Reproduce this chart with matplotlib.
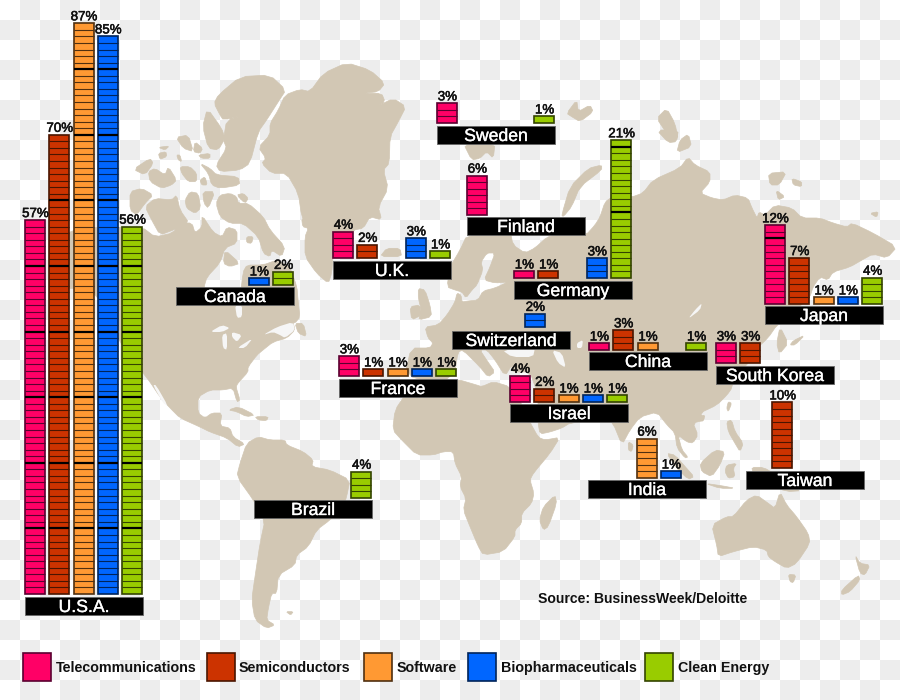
import numpy as np
import matplotlib.pyplot as plt
from matplotlib.colors import ListedColormap
from matplotlib.patches import Polygon, Rectangle
import matplotlib.patheffects as pe

plt.rcParams['font.family'] = ['Liberation Sans', 'DejaVu Sans']

# values (percent), one list per sector, same order as countries
countries = ["U.S.A.", "Canada", "Brazil", "U.K.", "France", "Sweden", "Finland", "Germany",
             "Switzerland", "China", "South Korea", "Japan", "Israel", "India", "Taiwan"]
telecom = [57, 0, 0, 4, 3, 3, 6, 1, 0, 1, 3, 12, 4, 0, 0]
semis = [70, 0, 0, 2, 1, 0, 0, 1, 0, 3, 3, 7, 2, 0, 10]
software = [87, 0, 0, 0, 1, 0, 0, 0, 0, 1, 0, 1, 1, 6, 0]
biopharma = [85, 1, 0, 3, 1, 0, 0, 3, 2, 0, 0, 1, 1, 1, 0]
clean = [56, 2, 4, 1, 1, 1, 0, 21, 0, 1, 0, 4, 1, 0, 0]
sectors = ["Telecommunications", "Semiconductors", "Software", "Biopharmaceuticals", "Clean Energy"]
source = "Source: BusinessWeek/Deloitte"

# layout
colors = ["#FF0066", "#CC3300", "#FF9933", "#0066FF", "#99CC00"]
dividers = ["#5a0030", "#4a1500", "#503010", "#00245a", "#344400"]
box_left = [25, 176, 254, 333, 339, 437, 467, 514, 452, 589, 716, 765, 510, 588, 746]
box_top = [597, 287, 500, 261, 379, 126, 217, 281, 331, 352, 366, 306, 404, 480, 471]
base = [594, 285, 498, 258, 376, 123, 215, 278, 327, 350, 363, 304, 402, 478, 468]
bar_shift = [0] * 14 + [2]
legend_x = [23, 207, 364, 467.5, 645]
legend_text_x = [56, 239, 397, 500.5, 678]
step = 24.3
unit = 6.56
bar_w = 20
box_w = 118
box_h = 18
land_color = "#D2C7B4"


def traced(ox, oy, pts):
    return [(ox + x / 3, oy + y / 3) for x, y in pts]


def soften(pts):
    # one round of corner cutting so the coasts are not so angular
    p = np.array(pts, dtype=float)
    q = np.roll(p, -1, axis=0)
    out = np.empty((2 * len(p), 2))
    out[0::2] = 0.8 * p + 0.2 * q
    out[1::2] = 0.2 * p + 0.8 * q
    return out


north_america = [(66, 228), (142, 227), (155, 237), (173, 233), (180, 223), (192, 223), (195, 233), (202, 227),
                 (202, 215), (213, 232), (222, 237), (227, 227), (237, 230), (237, 243), (225, 248), (220, 263),
                 (207, 277), (204, 287), (204, 300), (240, 300), (243, 272), (247, 265), (263, 265), (277, 260),
                 (290, 267), (297, 287), (298, 300), (300, 317), (295, 323), (293, 322), (295, 330), (287, 338),
                 (273, 342), (263, 350), (257, 355), (248, 367), (248, 372), (238, 383), (236, 387), (240, 400),
                 (237, 402), (233, 388), (223, 390), (210, 390), (198, 397), (198, 413), (205, 418), (212, 413),
                 (222, 413), (220, 426), (230, 428), (233, 437), (245, 444), (238, 447), (227, 438), (210, 432),
                 (200, 427), (180, 418), (170, 408), (160, 397), (150, 382), (143, 373), (118, 340), (95, 290),
                 (70, 288), (48, 290), (55, 260)]
eurasia = [(467, 235), (460, 250), (450, 267), (447, 287), (455, 290), (462, 292), (466, 298), (472, 290),
           (477, 285), (483, 270), (481, 262), (487, 253), (495, 253), (490, 267), (484, 280), (495, 283),
           (508, 282), (495, 288), (483, 291), (478, 300), (468, 301), (462, 302), (461, 295), (457, 293),
           (455, 302), (447, 315), (438, 325), (425, 327), (428, 338), (433, 343), (430, 348), (411, 348),
           (405, 375), (440, 385), (455, 372), (458, 352), (463, 350), (480, 367), (488, 377), (495, 372),
           (488, 362), (480, 350), (487, 350), (495, 360), (505, 376), (512, 365), (512, 372), (530, 372),
           (538, 395), (538, 423), (540, 434), (550, 432), (562, 428), (570, 423), (605, 418), (613, 423),
           (622, 445), (630, 430), (640, 417), (657, 412), (667, 425), (675, 433), (677, 448), (685, 458),
           (688, 457), (682, 450), (678, 435), (687, 442), (693, 443), (698, 435), (693, 423), (705, 420),
           (700, 413), (717, 405), (727, 395), (732, 388), (735, 370), (745, 368), (755, 350), (768, 338),
           (777, 325), (782, 324), (800, 306), (810, 297), (813, 287), (820, 277), (828, 280), (833, 272),
           (850, 267), (862, 260), (873, 254), (887, 258), (897, 247), (873, 233), (852, 223), (847, 227),
           (833, 223), (820, 218), (802, 218), (792, 208), (775, 205), (765, 215), (759, 212), (757, 218),
           (752, 208), (748, 198), (735, 195), (723, 200), (712, 198), (700, 193), (710, 182), (710, 172),
           (695, 165), (688, 157), (680, 168), (653, 180), (643, 193), (632, 197), (612, 197), (605, 202),
           (600, 217), (595, 225), (586, 235), (557, 235), (547, 237), (535, 248), (525, 253), (513, 245),
           (510, 230)]
south_america = traced(130, 300, [(350, 430), (385, 410), (420, 420), (465, 420), (470, 435), (520, 455), (550, 480),
                                  (545, 500), (600, 510), (660, 540), (650, 590), (640, 620), (600, 660), (560, 690),
                                  (535, 740), (500, 765), (495, 795), (445, 825), (440, 880), (425, 880), (415, 925),
                                  (410, 960), (435, 975), (410, 985), (375, 960), (365, 900), (375, 830), (390, 730),
                                  (405, 660), (370, 600), (320, 530), (330, 490)])
africa = traced(380, 330, [(38, 300), (45, 240), (75, 195), (120, 150), (232, 148), (290, 165), (305, 170), (340, 155),
                           (390, 170), (430, 230), (450, 277), (475, 322), (495, 330), (540, 322), (510, 370),
                           (460, 430), (450, 450), (462, 490), (455, 520), (425, 550), (425, 580), (405, 600),
                           (405, 620), (370, 665), (310, 675), (295, 650), (270, 590), (250, 540), (258, 505),
                           (240, 470), (245, 440), (225, 400), (220, 365), (190, 365), (160, 375), (110, 375),
                           (65, 330)])
australia = traced(620, 360, [(275, 495), (320, 470), (340, 470), (380, 420), (410, 405), (445, 430), (465, 445),
                              (480, 395), (500, 435), (530, 470), (565, 520), (570, 550), (530, 610), (500, 625),
                              (465, 605), (445, 590), (440, 570), (400, 560), (340, 575), (295, 590), (290, 555)])
greenland = traced(130, 60, [(385, 262), (420, 225), (420, 190), (445, 150), (465, 105), (510, 88), (540, 95), (580, 40),
                             (650, 8), (720, 30), (765, 70), (745, 95), (700, 100), (755, 100), (765, 125), (740, 140),
                             (790, 115), (828, 140), (805, 185), (780, 230), (778, 310), (760, 330), (775, 385),
                             (745, 440), (755, 480), (720, 470), (700, 505), (670, 510), (610, 580), (605, 640),
                             (595, 670), (560, 640), (525, 590), (525, 530), (535, 505), (515, 470), (505, 400),
                             (470, 340), (425, 340), (395, 310), (408, 295)])
arctic_islands = [traced(130, 60, p) for p in [
    [(252, 130), (265, 105), (330, 50), (420, 45), (468, 90), (445, 125), (410, 180), (385, 215), (360, 310),
     (330, 330), (270, 335), (258, 315), (290, 265), (280, 240), (290, 180), (345, 165), (280, 180), (270, 165)],
    [(232, 145), (275, 205), (285, 235), (265, 270), (235, 265), (218, 200)],
    [(138, 232), (175, 225), (190, 275), (160, 265)],
    [(195, 245), (218, 265), (210, 280), (190, 275)],
    [(205, 285), (240, 280), (240, 295), (215, 295)],
    [(85, 262), (118, 258), (105, 270)],
    [(85, 280), (108, 275), (110, 290), (90, 298)],
    [(140, 285), (150, 285), (155, 305), (145, 300)],
    [(10, 328), (60, 295), (70, 310), (45, 345)],
    [(55, 335), (75, 325), (105, 345), (115, 320), (140, 360), (125, 375), (95, 385), (60, 365)],
    [(150, 320), (180, 320), (200, 340), (200, 365), (175, 365), (155, 340)],
    [(210, 310), (240, 325), (260, 345), (325, 350), (330, 375), (270, 385), (245, 375), (235, 340)],
    [(210, 360), (225, 350), (232, 375), (215, 375)],
    [(0, 395), (35, 385), (70, 405), (45, 430), (20, 465), (0, 450)],
    [(45, 440), (75, 415), (125, 420), (140, 405), (150, 450), (178, 490), (130, 510), (90, 525), (65, 480)],
    [(165, 420), (180, 395), (205, 400), (212, 445), (195, 460), (170, 445)],
    [(218, 395), (255, 395), (235, 445), (222, 430)],
    [(258, 430), (270, 405), (300, 400), (320, 410), (325, 430), (355, 430), (400, 470), (420, 510), (465, 560),
     (455, 590), (425, 570), (420, 590), (400, 580), (385, 530), (340, 490), (300, 490), (270, 470)],
    [(320, 405), (340, 400), (355, 415), (345, 430)],
    [(285, 570), (330, 610), (300, 620), (280, 610)],
    [(350, 530), (370, 530), (365, 550), (350, 548)],
    [(750, 590), (770, 565), (810, 565), (815, 590)],
    [(515, 475), (540, 480), (535, 505), (518, 500)],
]]
other_islands = [
    traced(380, 90, [(250, 160), (345, 160), (340, 205), (320, 185), (300, 205), (275, 210)]),
    traced(380, 90, [(545, 375), (570, 290), (625, 235), (665, 225), (665, 240), (600, 290), (575, 350), (550, 380)]),
    traced(380, 90, [(560, 70), (590, 30), (595, 65), (630, 45), (640, 65), (600, 95), (575, 80)]),
    traced(380, 90, [(830, 85), (860, 55), (885, 100), (895, 150), (860, 130)]),
    traced(620, 130, [(110, 0), (175, 0), (170, 35), (145, 38)]),
    traced(620, 130, [(180, 30), (205, 12), (215, 50), (170, 68)]),
    traced(620, 130, [(445, 130), (500, 125), (478, 165), (450, 165)]),
    traced(620, 130, [(515, 145), (545, 155), (545, 170), (520, 165)]),
    traced(620, 130, [(468, 180), (495, 200), (475, 210)]),
    traced(620, 130, [(750, 250), (775, 245), (770, 262)]),
    traced(620, 130, [(480, 590), (505, 640), (478, 672), (470, 640)]),
    traced(620, 130, [(555, 615), (520, 632), (510, 645), (525, 645)]),
    traced(405, 285, [(40, 10), (60, 15), (75, 60), (80, 95), (40, 105), (50, 80), (40, 40)]),
    traced(405, 285, [(15, 65), (45, 60), (50, 90), (20, 105)]),
    traced(130, 300, [(495, 70), (520, 70), (530, 110), (505, 100)]),
    traced(130, 300, [(295, 330), (325, 320), (375, 345), (350, 350), (320, 335)]),
    traced(130, 300, [(375, 350), (415, 350), (410, 362), (385, 360)]),
    traced(130, 300, [(468, 935), (490, 935), (482, 945)]),
    traced(380, 330, [(525, 495), (530, 520), (505, 590), (490, 600), (478, 570), (490, 530)]),
    traced(380, 330, [(745, 335), (760, 345), (755, 365), (745, 360)]),
    traced(620, 360, [(140, 280), (165, 285), (200, 325), (222, 350), (205, 358), (170, 325)]),
    traced(620, 360, [(240, 310), (285, 270), (315, 275), (300, 315), (275, 350), (245, 335)]),
    traced(620, 360, [(255, 370), (310, 378), (345, 385), (300, 385)]),
    traced(620, 360, [(320, 315), (350, 310), (340, 325), (345, 350), (325, 355), (315, 335)]),
    traced(620, 360, [(320, 185), (335, 180), (345, 215), (370, 250), (360, 275), (345, 250), (325, 215)]),
    traced(620, 360, [(395, 322), (430, 322), (470, 345), (545, 392), (500, 395), (440, 370), (400, 340)]),
    traced(620, 360, [(325, 125), (335, 130), (325, 155), (320, 145)]),
    traced(620, 360, [(237, 170), (255, 165), (250, 183), (240, 183)]),
    traced(620, 360, [(505, 643), (528, 645), (520, 668), (510, 665)]),
    traced(620, 360, [(705, 585), (720, 610), (750, 615), (735, 645), (720, 640)]),
    traced(620, 360, [(715, 645), (720, 660), (690, 695), (665, 705), (665, 690)]),
]
# water inside the land
water = [
    [(210, 332), (222, 325), (230, 328), (222, 332)],
    [(222, 335), (227, 333), (227, 350), (223, 348)],
    [(232, 332), (242, 335), (237, 342), (232, 337)],
    [(237, 348), (253, 338), (245, 348)],
    [(235, 305), (242, 305), (242, 317), (237, 318)],
    [(263, 335), (277, 327), (293, 322), (295, 330), (285, 338), (280, 335), (273, 332)],
    [(153, 385), (156, 385), (168, 406), (163, 403)],
    [(502, 350), (535, 348), (533, 357), (512, 357)],
    [(552, 350), (562, 353), (566, 368), (558, 363)],
    [(702, 303), (700, 310), (688, 319), (695, 310)],
    [(577, 343), (583, 340), (582, 348), (577, 348)],
]

fig = plt.figure(figsize=(9, 7), dpi=100)
ax = fig.add_axes([0, 0, 1, 1])

# transparent-style checker background
checker = np.indices((35, 45)).sum(axis=0) % 2
ax.imshow(checker, cmap=ListedColormap(["#FFFFFF", "#EDEDED"]), extent=(0, 900, 700, 0),
          aspect="auto", interpolation="nearest", zorder=0)

for shape in [north_america, eurasia, south_america, africa, australia, greenland] + arctic_islands + other_islands:
    ax.add_patch(Polygon(soften(shape), closed=True, fc=land_color, ec=land_color, lw=0.5, joinstyle="round", zorder=1))
for shape in water:
    ax.add_patch(Polygon(soften(shape), closed=True, fc="#F6F6F6", ec="none", zorder=2))

series = [telecom, semis, software, biopharma, clean]
for c, name in enumerate(countries):
    left = box_left[c]
    for s, vals in enumerate(series):
        v = vals[c]
        if v == 0:
            continue
        x = left + s * step + bar_shift[c]
        ax.bar(x, -v * unit, width=bar_w, bottom=base[c], align="edge", color=colors[s],
               edgecolor=dividers[s], linewidth=1.2, zorder=3)
        for k in range(1, v):
            y = base[c] - k * unit
            # heavier rule every ten
            if k % 10 == 0:
                ax.hlines(y, x, x + bar_w, colors="black", linewidth=1.6, zorder=4)
            else:
                ax.hlines(y, x, x + bar_w, colors=dividers[s], linewidth=0.8, zorder=4)
        ax.text(x + bar_w / 2 + 0.5, base[c] - v * unit - 3, "%d%%" % v, ha="center", va="baseline",
                fontsize=9.6, color="#111111", zorder=6,
                path_effects=[pe.withStroke(linewidth=0.4, foreground="#111111")])
    ax.add_patch(Rectangle((left, box_top[c]), box_w, box_h, fc="black", ec="#666666", lw=0.6, zorder=3))
    ax.text(left + box_w / 2, box_top[c] + box_h / 2 + 1.5, name, ha="center", va="center",
            fontsize=12.7, color="white", zorder=6,
            path_effects=[pe.withStroke(linewidth=0.25, foreground="white")])

ax.text(538, 599, source, ha="left", va="center", fontsize=10.1, fontweight="bold", color="#111111", zorder=6)

for i, label in enumerate(sectors):
    ax.add_patch(Rectangle((legend_x[i], 653), 28, 28, fc=colors[i], ec=dividers[i], lw=1.2, zorder=3))
    ax.text(legend_text_x[i], 668, label, ha="left", va="center", fontsize=10.3, fontweight="bold",
            color="#111111", zorder=6)

ax.set_xlim(0, 900)
ax.set_ylim(700, 0)
ax.axis("off")

fig.savefig("out.png", dpi=100)
